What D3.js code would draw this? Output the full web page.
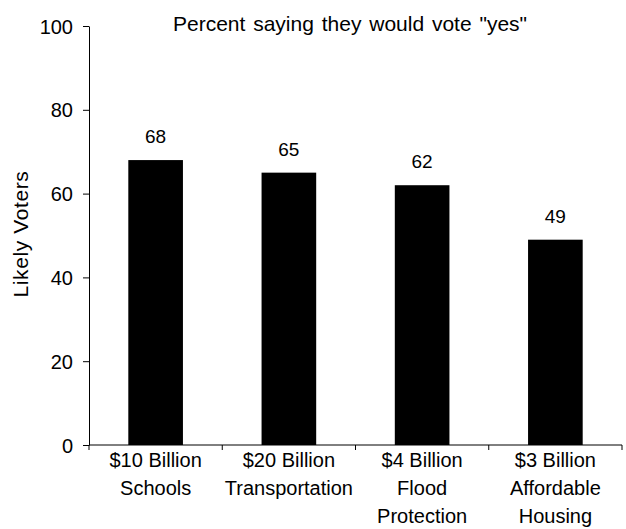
<!DOCTYPE html>
<html>
<head>
<meta charset="utf-8">
<script src="https://cdn.jsdelivr.net/npm/d3@7"></script>
<style>
  body { margin: 0; background: #fff; }
  text { font-family: Arial, "Liberation Sans", sans-serif; fill: #000; }
</style>
</head>
<body>
<div id="chart"></div>
<script>
const categories = [
    ["$10 Billion", "Schools"],
    ["$20 Billion", "Transportation"],
    ["$4 Billion", "Flood", "Protection"],
    ["$3 Billion", "Affordable", "Housing"]
]
const values = [68, 65, 62, 49]
const y_ticks = [0, 20, 40, 60, 80, 100]

const width = 626, height = 529
const margin = {top: 26, right: 4, bottom: 84, left: 89}
const inner_w = width - margin.left - margin.right,
    inner_h = height - margin.top - margin.bottom

let svg = d3.select("#chart")
    .append("svg")
    .attr("width", width)
    .attr("height", height)

let g = svg.append("g")
    .attr("transform", "translate(" + margin.left + "," + margin.top + ")")

const x = d3.scaleBand()
    .domain(d3.range(categories.length))
    .range([0, inner_w])
    .paddingInner(0.59)
    .paddingOuter(0.295)

const y = d3.scaleLinear()
    .domain([0, 100])
    .range([inner_h, 0])

// bars
g.selectAll(".bar")
    .data(values)
    .enter()
    .append("rect")
    .attr("class", "bar")
    .attr("x", (d, i) => x(i))
    .attr("y", d => y(d))
    .attr("width", x.bandwidth())
    .attr("height", d => inner_h - y(d))
    .attr("fill", "#000")

// value labels
g.selectAll(".val")
    .data(values)
    .enter()
    .append("text")
    .attr("x", (d, i) => x(i) + x.bandwidth() / 2)
    .attr("y", d => y(d) - 17)
    .attr("text-anchor", "middle")
    .style("font-size", "19px")
    .text(d => d)

// y axis
let y_axis = g.append("g")
    .call(d3.axisLeft(y)
        .tickValues(y_ticks)
        .tickSizeInner(6)
        .tickSizeOuter(0)
        .tickPadding(10)
    )
y_axis.selectAll("text").style("font-size", "20px").attr("dy", "0.35em")
y_axis.selectAll("line, path").attr("stroke", "#000")

// x axis: plain line with ticks at category boundaries
let x_axis = g.append("g")
    .attr("transform", "translate(0," + inner_h + ")")
x_axis.append("line")
    .attr("x1", 0).attr("x2", inner_w)
    .attr("stroke", "#000")
x_axis.selectAll(".sep")
    .data(d3.range(categories.length + 1))
    .enter()
    .append("line")
    .attr("x1", i => i * x.step())
    .attr("x2", i => i * x.step())
    .attr("y1", 0).attr("y2", 5)
    .attr("stroke", "#000")

let labels = x_axis.selectAll(".cat")
    .data(categories)
    .enter()
    .append("text")
    .attr("text-anchor", "middle")
    .attr("transform", (d, i) => "translate(" + (x(i) + x.bandwidth() / 2) + ",0)")
    .style("font-size", "20px")
labels.selectAll("tspan")
    .data(d => d)
    .enter()
    .append("tspan")
    .attr("x", 0)
    .attr("y", (d, k) => 22 + k * 28)
    .text(d => d)

// y title
svg.append("text")
    .attr("transform", "translate(28,234) rotate(-90)")
    .attr("text-anchor", "middle")
    .style("font-size", "21px")
    .style("letter-spacing", "0.6px")
    .text("Likely Voters")

// chart title
svg.append("text")
    .attr("x", 350)
    .attr("y", 31)
    .attr("text-anchor", "middle")
    .style("font-size", "21px")
    .style("word-spacing", "2px")
    .text('Percent saying they would vote "yes"')
</script>
</body>
</html>
